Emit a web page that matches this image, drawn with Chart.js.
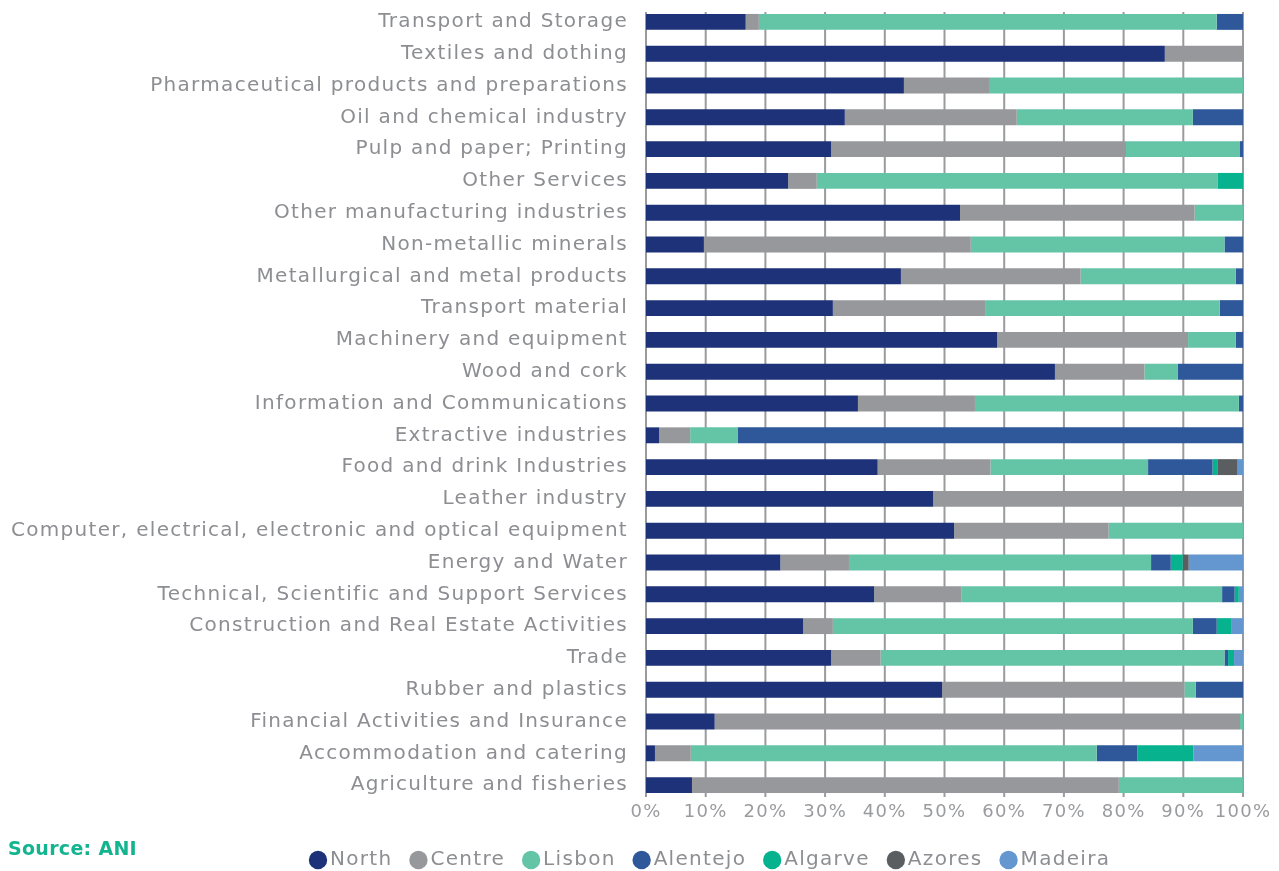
<!DOCTYPE html>
<html>
<head>
<meta charset="utf-8">
<script src="https://cdn.jsdelivr.net/npm/chart.js@4"></script>
<style>
  html, body { margin: 0; padding: 0; background: #ffffff; }
  #wrap { position: relative; width: 1279px; height: 871px; }
  #source { position: absolute; left: 8px; top: 837px; font-family: "DejaVu Sans", sans-serif; font-size: 19px; font-weight: 600; color: #14b48f; letter-spacing: 0.3px; }
</style>
</head>
<body>
<div id="wrap">
  <canvas id="c" width="1279" height="871"></canvas>
  <div id="source">Source: ANI</div>
</div>
<script>
const categories = [
  "Transport and Storage",
  "Textiles and dothing",
  "Pharmaceutical products and preparations",
  "Oil and chemical industry",
  "Pulp and paper; Printing",
  "Other Services",
  "Other manufacturing industries",
  "Non-metallic minerals",
  "Metallurgical and metal products",
  "Transport material",
  "Machinery and equipment",
  "Wood and cork",
  "Information and Communications",
  "Extractive industries",
  "Food and drink Industries",
  "Leather industry",
  "Computer, electrical, electronic and optical equipment",
  "Energy and Water",
  "Technical, Scientific and Support Services",
  "Construction and Real Estate Activities",
  "Trade",
  "Rubber and plastics",
  "Financial Activities and Insurance",
  "Accommodation and catering",
  "Agriculture and fisheries"
];
const north    = [16.7, 86.9, 43.2, 33.3, 31.0, 23.8, 52.6,  9.7, 42.7, 31.3, 58.8, 68.5, 35.5,  2.2, 38.8, 48.1, 51.6, 22.5, 38.2, 26.3, 31.0, 49.6, 11.5,  1.5,  7.7];
const centre   = [ 2.2, 13.1, 14.4, 28.8, 49.4,  4.8, 39.3, 44.7, 30.1, 25.5, 32.0, 15.0, 19.6,  5.2, 18.9, 51.9, 25.9, 11.5, 14.6,  5.0,  8.3, 40.6, 88.0,  6.0, 71.5];
const lisbon   = [76.7,  0.0, 42.4, 29.5, 19.1, 67.2,  8.1, 42.5, 26.0, 39.3,  8.0,  5.6, 44.2,  8.0, 26.4,  0.0, 22.5, 50.6, 43.7, 60.3, 57.6,  1.9,  0.5, 68.0, 20.8];
const alentejo = [ 4.4,  0.0,  0.0,  8.4,  0.5,  0.0,  0.0,  3.1,  1.2,  3.9,  1.2, 10.9,  0.7, 84.6, 10.8,  0.0,  0.0,  3.3,  2.1,  4.0,  0.6,  7.9,  0.0,  6.8,  0.0];
const algarve  = [ 0.0,  0.0,  0.0,  0.0,  0.0,  4.2,  0.0,  0.0,  0.0,  0.0,  0.0,  0.0,  0.0,  0.0,  0.9,  0.0,  0.0,  2.0,  0.7,  2.4,  1.0,  0.0,  0.0,  9.4,  0.0];
const azores   = [ 0.0,  0.0,  0.0,  0.0,  0.0,  0.0,  0.0,  0.0,  0.0,  0.0,  0.0,  0.0,  0.0,  0.0,  3.3,  0.0,  0.0,  1.0,  0.0,  0.0,  0.0,  0.0,  0.0,  0.0,  0.0];
const madeira  = [ 0.0,  0.0,  0.0,  0.0,  0.0,  0.0,  0.0,  0.0,  0.0,  0.0,  0.0,  0.0,  0.0,  0.0,  0.9,  0.0,  0.0,  9.1,  0.7,  2.0,  1.5,  0.0,  0.0,  8.3,  0.0];
const seriesNames = ["North", "Centre", "Lisbon", "Alentejo", "Algarve", "Azores", "Madeira"];
const seriesColors = ["#1d3279", "#97989c", "#64c4a6", "#2e5899", "#07b28f", "#5b5e60", "#6497cf"];
const xTicks = [0, 10, 20, 30, 40, 50, 60, 70, 80, 90, 100];

const seriesData = [north, centre, lisbon, alentejo, algarve, azores, madeira];
const FONT = "'DejaVu Sans', sans-serif";
const TEXT_COLOR = '#8d8e92';

// wider letter spacing to approach the reference's geometric typeface
const spacingPlugin = {
  id: 'spacing',
  beforeUpdate(chart) { chart.ctx.letterSpacing = '1.3px'; },
  beforeDraw(chart) { chart.ctx.letterSpacing = '1.3px'; }
};

// vertical grid lines drawn through the x scale, slightly inset from the plot edges
const gridPlugin = {
  id: 'vgrid',
  beforeDatasetsDraw(chart) {
    const { ctx, chartArea, scales } = chart;
    ctx.save();
    ctx.strokeStyle = '#9a9b9e';
    ctx.lineWidth = 2;
    scales.x.ticks.forEach(t => {
      const x = scales.x.getPixelForValue(t.value);
      ctx.beginPath();
      ctx.moveTo(x, chartArea.top + 6);
      ctx.lineTo(x, chartArea.bottom - 4);
      ctx.stroke();
    });
    ctx.restore();
  }
};

// position legend like the reference
const legendPos = {
  id: 'legendPos',
  afterLayout(chart) {
    const lg = chart.legend;
    if (!lg || !lg.lineWidths) return;
    const pad = lg.options.labels.padding;
    const lw = lg.lineWidths[0];
    const cur = (lg.left + pad + lg.right - lw) / 2;
    const shift = 316 - cur;
    lg.left += shift; lg.right += shift;
    const dy = 860 - (lg.top + pad + 10);
    lg.top += dy; lg.bottom += dy;
  }
};

new Chart(document.getElementById('c'), {
  type: 'bar',
  data: {
    labels: categories,
    datasets: seriesNames.map((n, i) => ({
      label: n,
      data: seriesData[i],
      backgroundColor: seriesColors[i],
      borderWidth: 0,
      barPercentage: 0.5,
      categoryPercentage: 1.0
    }))
  },
  options: {
    indexAxis: 'y',
    responsive: false,
    animation: false,
    layout: { padding: { top: 6, right: 36, bottom: 0, left: 0 } },
    scales: {
      x: {
        stacked: true,
        min: 0, max: 100,
        afterBuildTicks: (s) => { s.ticks = xTicks.map(v => ({ value: v })); },
        afterFit: (s) => { s.height = 16; s.paddingLeft = 0; s.paddingRight = 0; },
        ticks: {
          callback: (v) => v + '%',
          color: '#9a9b9e',
          font: { family: FONT, size: 18 },
          padding: 1,
          maxRotation: 0
        },
        grid: { display: false, drawTicks: false },
        border: { display: false }
      },
      y: {
        stacked: true,
        afterFit: (s) => { s.width = 646; s.paddingTop = 0; s.paddingBottom = 0; },
        ticks: {
          color: TEXT_COLOR,
          font: { family: FONT, size: 20 },
          padding: 18
        },
        grid: { display: false, drawTicks: false },
        border: { display: false }
      }
    },
    plugins: {
      legend: {
        position: 'bottom',
        labels: {
          usePointStyle: true,
          pointStyle: 'circle',
          boxWidth: 4,
          boxHeight: 13,
          padding: 24,
          color: TEXT_COLOR,
          font: { family: FONT, size: 20 }
        }
      },
      tooltip: { enabled: false }
    }
  },
  plugins: [spacingPlugin, gridPlugin, legendPos]
});
</script>
</body>
</html>
